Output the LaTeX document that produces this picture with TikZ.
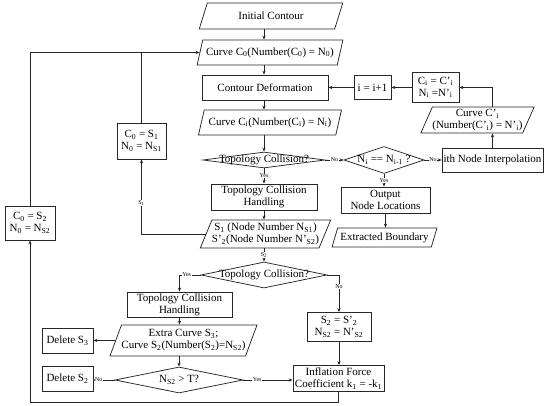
\documentclass[tikz,border=0pt]{standalone}
\usepackage{fontspec}
\setmainfont{Liberation Serif}
\usetikzlibrary{shapes.geometric,arrows.meta}
\tikzset{
  base/.style={draw=black!85, line width=0.75pt, font=\fontsize{11}{12}\selectfont, align=center, inner sep=0pt},
  box/.style={base, rectangle},
  para/.style={base, trapezium, trapezium left angle=62, trapezium right angle=118, trapezium stretches=true},
  dia/.style={base, diamond},
  lbl/.style={font=\fontsize{6}{6}\selectfont, fill=white, inner sep=0.5pt},
  arr/.style={draw=black!85, line width=0.75pt, -{Stealth[length=4pt,width=3.2pt]}},
  ln/.style={draw=black!85, line width=0.75pt}
}
\begin{document}
\begin{tikzpicture}[x=1pt,y=-1pt]
\useasboundingbox (0,0) rectangle (550,406);
\coordinate (col) at (264,0);
% main column
\node[para, minimum width=144, minimum height=26] (init) at (271,16) {Initial Contour};
\node[para, minimum width=146, minimum height=25] (c0) at (270,52.5) {Curve C\textsubscript{0}(Number(C\textsubscript{0}) = N\textsubscript{0})};
\node[box, minimum width=126, minimum height=25] (cd) at (265,87.5) {Contour Deformation};
\node[para, minimum width=143, minimum height=25] (ci) at (270,122.5) {Curve C\textsubscript{i}(Number(C\textsubscript{i}) = N\textsubscript{i})};
\node[dia, minimum width=122, minimum height=16] (tc1) at (264,160) {\makebox[0pt]{Topology Collision?}};
\node[box, minimum width=106, minimum height=26] (tch1) at (264,197) {Topology Collision\\Handling};
\node[para, minimum width=121, minimum height=28] (s1) at (265.5,234) {S\textsubscript{1} (Node Number N\textsubscript{S1})\\S'\textsubscript{2}(Node Number N'\textsubscript{S2})};
\node[dia, minimum width=126, minimum height=26] (tc2) at (264,275) {\makebox[0pt]{Topology Collision?}};
% lower left
\node[box, minimum width=105, minimum height=25] (tch2) at (179.5,304.5) {Topology Collision\\Handling};
\node[para, minimum width=133, minimum height=31] (extra) at (183.5,340.5) {Extra Curve S\textsubscript{3};\\Curve S\textsubscript{2}(Number(S\textsubscript{2})=N\textsubscript{S2})};
\node[box, minimum width=51, minimum height=25] (ds3) at (67.5,340.5) {Delete S\textsubscript{3}};
\node[dia, minimum width=128, minimum height=26] (ns2) at (179,380) {\makebox[0pt]{N\textsubscript{S2} > T?}};
\node[box, minimum width=51, minimum height=25] (ds2) at (67.5,378.5) {Delete S\textsubscript{2}};
\node[box, minimum width=64, minimum height=29] (s2b) at (339,327) {S\textsubscript{2} = S'\textsubscript{2}\\N\textsubscript{S2} = N'\textsubscript{S2}};
\node[box, minimum width=91, minimum height=26] (inf) at (338.5,378.5) {Inflation Force\\Coefficient k\textsubscript{1} = -k\textsubscript{1}};
% left boxes
\node[box, minimum width=49, minimum height=36] (c0s1) at (141.5,141) {C\textsubscript{0} = S\textsubscript{1}\\N\textsubscript{0} = N\textsubscript{S1}};
\node[box, minimum width=50, minimum height=34] (c0s2) at (30,223) {C\textsubscript{0} = S\textsubscript{2}\\N\textsubscript{0} = N\textsubscript{S2}};
% right side
\node[box, minimum width=37, minimum height=24] (incr) at (372.5,87.5) {i = i+1};
\node[box, minimum width=47, minimum height=30] (cic) at (435.5,87.5) {C\textsubscript{i} = C'\textsubscript{i}\\N\textsubscript{i} =N'\textsubscript{i}};
\node[para, minimum width=69, minimum height=26] (cpi) at (477.5,120) {Curve C'\textsubscript{i}\\(Number(C'\textsubscript{i}) = N'\textsubscript{i})};
\node[box, minimum width=101, minimum height=24] (nip) at (492.5,160) {ith Node Interpolation};
\node[dia, minimum width=80, minimum height=27] (neq) at (384,160) {\makebox[0pt]{N\textsubscript{i} == N\textsubscript{i-1} ?}};
\node[box, minimum width=89, minimum height=26] (out) at (385.5,200) {Output\\Node Locations};
\node[para, minimum width=105, minimum height=19] (eb) at (384.5,237.5) {Extracted Boundary};
% connectors main column
\draw[arr] (init.south -| col) -- (c0.north -| col);
\draw[arr] (c0.south -| col) -- (cd.north -| col);
\draw[arr] (cd.south -| col) -- (ci.north -| col);
\draw[arr] (ci.south -| col) -- (tc1.north);
\draw[arr] (tc1.south) -- node[lbl]{Yes} (tch1.north);
\draw[arr] (tch1.south) -- (s1.north -| col);
\draw[arr] (s1.south -| col) -- node[lbl]{S\textsubscript{2}} (tc2.north);
% second collision
\draw[arr] (tc2.west) -| node[lbl, pos=0.33]{Yes} (tch2.north);
\draw[arr] (tc2.east) -| node[lbl, pos=0.66]{No} (s2b.north);
\draw[arr] (tch2.south) -- (tch2.south |- extra.north);
\draw[arr] (extra.west) -- (ds3.east);
\draw[arr] (extra.south -| ns2.north) -- (ns2.north);
\draw[arr] (ns2.west) -- node[lbl, pos=0.75]{No} (ns2.west -| ds2.east);
\draw[arr] (ns2.east) -- node[lbl, pos=0.28]{Yes} (ns2.east -| inf.west);
\draw[arr] (s2b.south) -- (s2b.south |- inf.north);
% big loop
\draw[arr] (inf.south) -- ++(0,11) -| (c0s2.south);
\draw[arr] (c0s2.north) |- (c0.west);
\draw[arr] (s1.west) -| node[lbl, pos=0.71]{S\textsubscript{1}} (c0s1.south);
\draw[ln] (c0s1.north) -- (c0s1.north |- c0.west);
% right side
\draw[arr] (tc1.east) -- node[lbl]{No} (neq.west);
\draw[arr] (neq.east) -- node[lbl]{No} (nip.west);
\draw[arr] (neq.south) -- node[lbl]{Yes} (neq.south |- out.north);
\draw[arr] (out.south) -- (out.south |- eb.north);
\draw[arr] (nip.north) -- (nip.north |- cpi.south);
\draw[arr] (nip.north |- cpi.north) |- (cic.east);
\draw[arr] (cic.west) -- (incr.east);
\draw[arr] (incr.west) -- (cd.east);
\end{tikzpicture}
\end{document}
